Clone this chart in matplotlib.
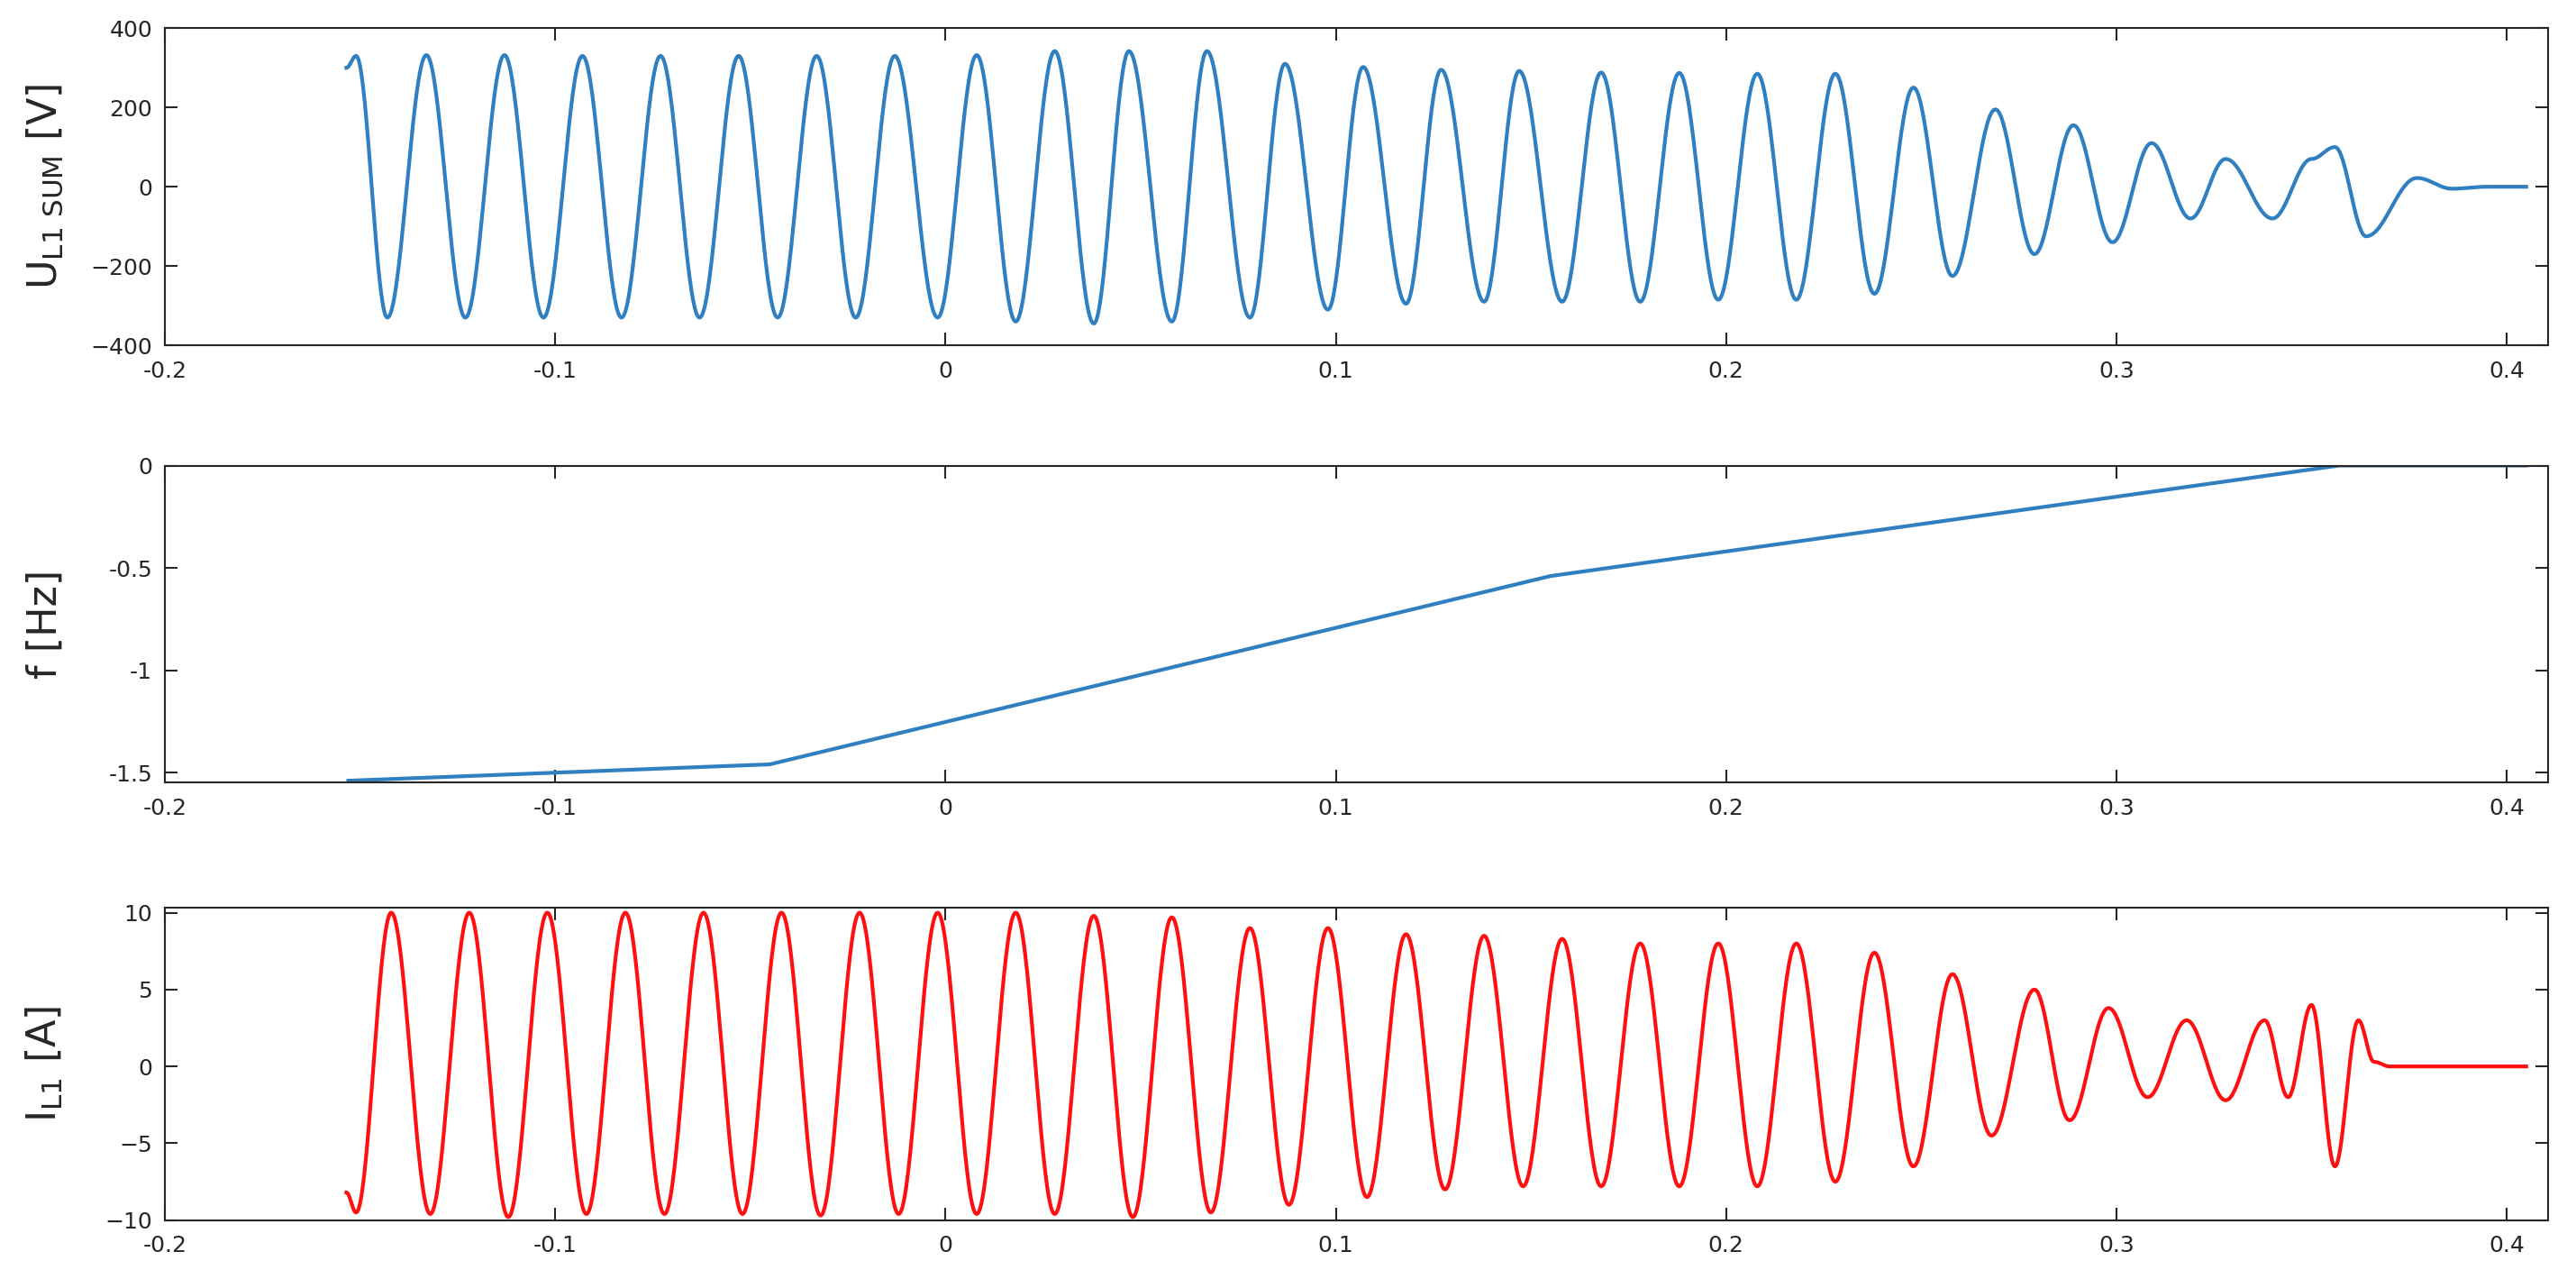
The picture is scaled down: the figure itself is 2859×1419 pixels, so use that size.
import numpy as np
import matplotlib
matplotlib.use("Agg")
import matplotlib.pyplot as plt

# Voltage extrema (time [s], value [V])
u_t = [-0.1535, -0.151, -0.143, -0.133, -0.123, -0.113, -0.103, -0.093, -0.083, -0.073, -0.063,
       -0.053, -0.043, -0.033, -0.023, -0.013, -0.002, 0.008, 0.018, 0.028, 0.038, 0.047, 0.058,
       0.067, 0.078, 0.087, 0.098, 0.107, 0.118, 0.127, 0.138, 0.147, 0.158, 0.168, 0.178, 0.188,
       0.198, 0.208, 0.218, 0.228, 0.238, 0.248, 0.258, 0.269, 0.279, 0.289, 0.299, 0.309, 0.319,
       0.328, 0.340, 0.350, 0.356, 0.364, 0.377, 0.386, 0.395, 0.405]
u_v = [300, 330, -330, 332, -330, 332, -330, 330, -330, 330, -330,
       330, -330, 330, -330, 330, -330, 332, -340, 342, -345, 342, -340,
       342, -330, 310, -310, 302, -295, 295, -290, 292, -290, 288, -290, 287,
       -285, 285, -285, 285, -270, 250, -225, 195, -170, 155, -140, 110, -80,
       70, -80, 70, 100, -125, 22, -5, 0, 0]

# Frequency deviation breakpoints
f_t = [-0.153, -0.045, 0.155, 0.357, 0.405]
f_v = [-1.54, -1.46, -0.54, 0.0, 0.0]

# Current extrema (time [s], value [A])
i_t = [-0.1535, -0.151, -0.142, -0.132, -0.122, -0.112, -0.102, -0.092, -0.082, -0.072, -0.062,
       -0.052, -0.042, -0.032, -0.022, -0.012, -0.002, 0.008, 0.018, 0.028, 0.038, 0.048, 0.058,
       0.068, 0.078, 0.088, 0.098, 0.108, 0.118, 0.128, 0.138, 0.148, 0.158, 0.168, 0.178, 0.188,
       0.198, 0.208, 0.218, 0.228, 0.238, 0.248, 0.258, 0.268, 0.279, 0.288, 0.298, 0.308,
       0.318, 0.328, 0.338, 0.344, 0.350, 0.356, 0.362, 0.366, 0.370, 0.405]
i_v = [-8.2, -9.5, 10, -9.6, 10, -9.8, 10, -9.6, 10, -9.6, 10,
       -9.6, 10, -9.7, 10, -9.6, 10, -9.6, 10, -9.6, 9.8, -9.8, 9.7,
       -9.5, 9, -9.0, 9, -8.5, 8.6, -8.0, 8.5, -7.8, 8.3, -7.8, 8.0, -7.8,
       8.0, -7.8, 8.0, -7.5, 7.4, -6.5, 6.0, -4.5, 5.0, -3.5, 3.8, -2.0,
       3.0, -2.2, 3.0, -2.0, 4.0, -6.5, 3.0, 0.3, 0.0, 0.0]


def smooth(ts, vs, n=40):
    xs, ys = [], []
    for k in range(len(ts) - 1):
        s = np.linspace(0, 1, n, endpoint=False)
        xs.append(ts[k] + (ts[k + 1] - ts[k]) * s)
        ys.append(vs[k] + (vs[k + 1] - vs[k]) * (1 - np.cos(np.pi * s)) / 2)
    xs.append([ts[-1]]); ys.append([vs[-1]])
    return np.concatenate(xs), np.concatenate(ys)


fig = plt.figure(figsize=(28.59, 14.19), dpi=100)
L, W = 0.064, 0.925
ax1 = fig.add_axes([L, 0.730, W, 0.248])
ax2 = fig.add_axes([L, 0.388, W, 0.248])
ax3 = fig.add_axes([L, 0.046, W, 0.244])

blue = "#2f7fc1"
x, y = smooth(u_t, u_v)
ax1.plot(x, y, color=blue, lw=3)
ax2.plot(f_t, f_v, color=blue, lw=3)
x, y = smooth(i_t, i_v)
ax3.plot(x, y, color="#ff1010", lw=3)

ax1.set_ylim(-400, 400); ax1.set_yticks([-400, -200, 0, 200, 400])
ax2.set_ylim(-1.55, 0); ax2.set_yticks([-1.5, -1, -0.5, 0])
ax2.set_yticklabels(["-1.5", "-1", "-0.5", "0"])
ax3.set_ylim(-10, 10.3); ax3.set_yticks([-10, -5, 0, 5, 10])

ax1.set_ylabel(r"U$_{\mathregular{L1\ SUM}}$ [V]", fontsize=32, color="#262626")
ax2.set_ylabel("f [Hz]", fontsize=32, color="#262626")
ax3.set_ylabel(r"I$_{\mathregular{L1}}$ [A]", fontsize=32, color="#262626")

for ax in (ax1, ax2, ax3):
    ax.set_xlim(-0.2, 0.4105)
    ax.set_xticks([-0.2, -0.1, 0, 0.1, 0.2, 0.3, 0.4])
    ax.set_xticklabels(["-0.2", "-0.1", "0", "0.1", "0.2", "0.3", "0.4"])
    ax.tick_params(labelsize=18, colors="#262626", direction="in", length=10, width=1.5,
                   top=True, right=True)
    ax.tick_params(axis="x", pad=12)
    ax.tick_params(axis="y", pad=10)
    for sp in ax.spines.values():
        sp.set_color("#262626"); sp.set_linewidth(1.5)
    ax.yaxis.set_label_coords(-0.042, 0.5)

fig.savefig("out.png", dpi=100)
